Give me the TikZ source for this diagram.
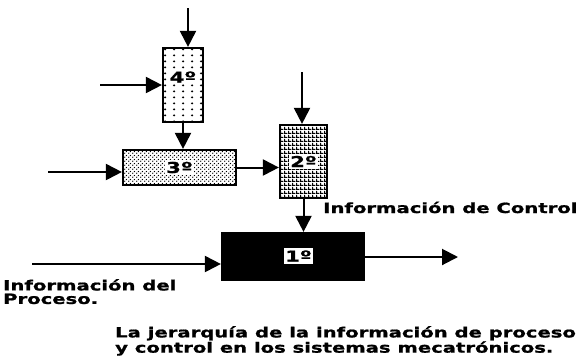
\documentclass[tikz,border=0pt]{standalone}
\usepackage{fontspec}
\setmainfont{DejaVu Sans}[FakeStretch=1.4, BoldFeatures={FakeBold=1.2}]
\usetikzlibrary{arrows.meta,positioning,calc,patterns}

\pgfdeclarepatternformonly{sparse dots}{\pgfpointorigin}{\pgfpoint{8.5pt}{6pt}}{\pgfpoint{8.5pt}{6pt}}{%
  \pgfpathcircle{\pgfpoint{4.25pt}{3pt}}{1.25pt}\pgfusepath{fill}}
\pgfdeclarepatternformonly{dense dots}{\pgfpointorigin}{\pgfpoint{4pt}{4pt}}{\pgfpoint{4pt}{4pt}}{%
  \pgfpathcircle{\pgfpoint{1pt}{1pt}}{0.85pt}%
  \pgfpathcircle{\pgfpoint{3pt}{3pt}}{0.85pt}\pgfusepath{fill}}
\pgfdeclarepatternformonly{fine grid}{\pgfpointorigin}{\pgfpoint{4pt}{4pt}}{\pgfpoint{4pt}{4pt}}{%
  \pgfpathrectangle{\pgfpointorigin}{\pgfpoint{4pt}{1.5pt}}%
  \pgfpathrectangle{\pgfpointorigin}{\pgfpoint{1.5pt}{4pt}}\pgfusepath{fill}}

\begin{document}
\begin{tikzpicture}[
    x=1pt, y=1pt,
    block/.style={rectangle, draw, line width=2.2pt, inner sep=0pt},
    tag/.style={fill=white, inner sep=1.5pt, font=\fontsize{15}{15}\selectfont\bfseries},
    txt/.style={inner sep=0pt, align=left, font=\fontsize{14}{13.5}\selectfont\bfseries},
    arrow/.style={-{Triangle[length=16pt,width=16pt]}, line width=2pt}
]
\useasboundingbox (0,0) rectangle (586,-357);

% Levels
\node[block, pattern=sparse dots, minimum width=40pt, minimum height=74pt] (b4) at (183,-85) {};
\node[tag] (t4) at ($(b4.center)+(0,8)$) {4º};
\node[block, pattern=dense dots, minimum width=113pt, minimum height=35pt] (b3) at (179.5,-167.5) {};
\node[tag] (t3) at (b3.center) {3º};
\node[block, pattern=fine grid, minimum width=47pt, minimum height=73pt] (b2) at (303.5,-161.5) {};
\node[tag] (t2) at (b2.center) {2º};
\node[block, fill=black, minimum width=142pt, minimum height=47pt] (b1) at (293,-256.5) {};
\node[tag, minimum width=29pt, minimum height=16pt] (t1) at (298.5,-256) {1º};

% Inputs
\coordinate (in4) at (188,-8);
\coordinate (w4) at (100,-85);
\coordinate (w3) at (48,-172);
\coordinate (in2) at (302,-72);
\coordinate (w1) at (32,-264);
\coordinate (out1) at (458,-257);

% Connections
\draw[arrow] (in4) -- (in4 |- b4.north);
\draw[arrow] (w4) -- (w4 -| b4.west);
\draw[arrow] (b4.south) -- (b4.south |- b3.north);
\draw[arrow] (w3) -- (w3 -| b3.west);
\draw[arrow] (b3.east) -- (b3.east -| b2.west);
\draw[arrow] (in2) -- (in2 |- b2.north);
\draw[arrow] (b2.south) -- (b2.south |- b1.north);
\draw[arrow] (w1) -- (w1 -| b1.west);
\draw[arrow] (b1.east |- out1) -- (out1);

% Labels
\node[txt, anchor=base west] (ctrl) at (323,-213) {Información de Control};
\node[txt, anchor=north west] (proc) at (3,-279) {Información del\\Proceso.};
\node[txt, anchor=north west] (cap) at (115,-326) {La jerarquía de la información de proceso\\y control en los sistemas mecatrónicos.};

\end{tikzpicture}
\end{document}
